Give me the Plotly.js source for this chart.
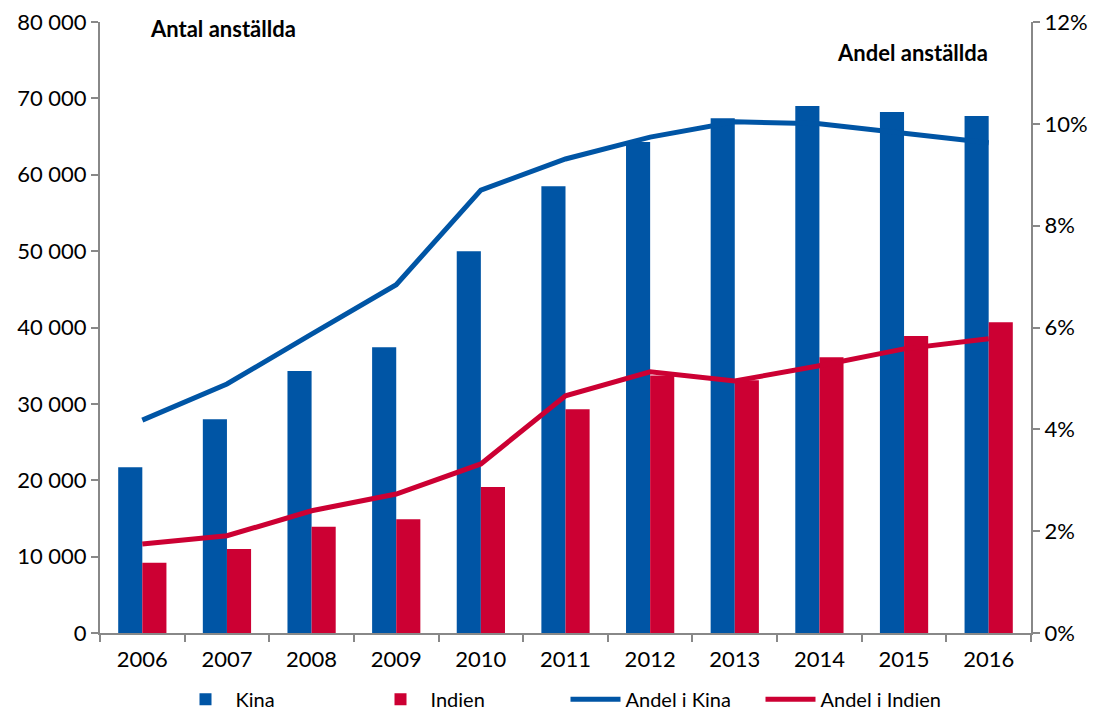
<!DOCTYPE html>
<html>
<head>
<meta charset="utf-8">
<script src="https://cdn.plot.ly/plotly-3.0.1.min.js"></script>
<style>html,body{margin:0;padding:0;background:#fff;}#chart{width:1098px;height:715px;}</style>
</head>
<body>
<div id="chart"></div>
<script>
const years = ['2006','2007','2008','2009','2010','2011','2012','2013','2014','2015','2016'];
const kina = [21700, 28000, 34300, 37400, 50000, 58500, 64300, 67400, 69000, 68200, 67700];
const indien = [9200, 11000, 13900, 14900, 19100, 29300, 33700, 33100, 36100, 38900, 40700];
const andelKina = [4.18, 4.89, 5.87, 6.84, 8.70, 9.31, 9.74, 10.04, 10.0, 9.82, 9.63];
const andelIndien = [1.75, 1.91, 2.40, 2.73, 3.32, 4.66, 5.13, 4.95, 5.25, 5.58, 5.78];
const yTicks = [0,10000,20000,30000,40000,50000,60000,70000,80000];
const y2Ticks = [0,2,4,6,8,10,12];
const y2Labels = ['0%','2%','4%','6%','8%','10%','12%'];

const blue = '#0055A5', red = '#CC0033';
const font = 'Lato, "Open Sans", sans-serif';

const traces = [
  {type:'bar', name:'Kina', x:years, y:kina, marker:{color:blue}},
  {type:'bar', name:'Indien', x:years, y:indien, marker:{color:red}},
  {type:'scatter', mode:'lines', name:'Andel i Kina', x:years, y:andelKina, yaxis:'y2', line:{color:blue, width:5}},
  {type:'scatter', mode:'lines', name:'Andel i Indien', x:years, y:andelIndien, yaxis:'y2', line:{color:red, width:5}}
];

const layout = {
  width:1098, height:715,
  margin:{l:100, r:67, t:22, b:82, autoexpand:false},
  paper_bgcolor:'#fff', plot_bgcolor:'#fff',
  separators:', ',
  barmode:'group', bargap:0.43, bargroupgap:0,
  font:{family:font, size:22, color:'#000'},
  showlegend:true,
  legend:{orientation:'h', x:0.5, xanchor:'center', yref:'container', y:0.022, yanchor:'middle', font:{size:20}, traceorder:'normal', itemwidth:50, entrywidth:130},
  xaxis:{type:'category', showline:true, linecolor:'#888', linewidth:2, ticks:'outside', tickcolor:'#888', ticklen:7, tickwidth:2,
         tickson:'boundaries', showgrid:false, zeroline:false, tickfont:{size:22}, automargin:false, ticklabelstandoff:6},
  yaxis:{range:[0,80000], tickvals:yTicks, tickformat:',d', showline:true, linecolor:'#888', linewidth:2,
         ticks:'outside', tickcolor:'#888', ticklen:7, tickwidth:2, showgrid:false, zeroline:false, tickfont:{size:22}, automargin:false},
  yaxis2:{range:[0,12], tickvals:y2Ticks, ticktext:y2Labels, overlaying:'y', side:'right', showline:true, linecolor:'#888', linewidth:2,
          ticks:'outside', tickcolor:'#888', ticklen:7, tickwidth:2, showgrid:false, zeroline:false, tickfont:{size:22}, automargin:false},
  annotations:[
    {text:'<b>Antal anställda</b>', xref:'paper', yref:'paper', x:0.052, y:0.99, xanchor:'left', yanchor:'middle', showarrow:false, font:{size:22}},
    {text:'<b>Andel anställda</b>', xref:'paper', yref:'paper', x:0.956, y:0.95, xanchor:'right', yanchor:'middle', showarrow:false, font:{size:22}}
  ]
};
Plotly.newPlot('chart', traces, layout, {displayModeBar:false, staticPlot:true});
</script>
</body>
</html>
